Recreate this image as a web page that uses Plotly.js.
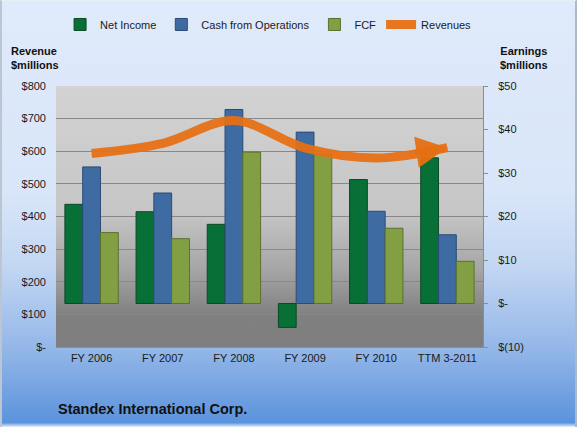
<!DOCTYPE html>
<html>
<head>
<meta charset="utf-8">
<script src="https://cdn.plot.ly/plotly-3.0.1.min.js"></script>
<style>
  html, body { margin: 0; padding: 0; }
  #chart {
    width: 577px; height: 427px; box-sizing: border-box;
    background: linear-gradient(to bottom, #dfeafb 0%, #d9e6f9 45%, #c3d7f3 62%, #93b6e8 82%, #5b93dc 99%, #e8f0fb 100%);
    border-left: 2px solid #bcc6d2; border-right: 2px solid #b0b8c4; border-top: 1px solid #e8eef6;
  }
</style>
</head>
<body>
<div id="chart"></div>
<script>
const categories = ["FY 2006", "FY 2007", "FY 2008", "FY 2009", "FY 2010", "TTM 3-2011"];
const netIncome = [22.8, 21.1, 18.2, -5.5, 28.5, 33.5];
const cashFromOps = [31.4, 25.4, 44.6, 39.4, 21.2, 15.8];
const fcf = [16.3, 14.9, 34.8, 34.4, 17.3, 9.7];
const revenues = [593, 624, 694, 610, 579, 611];

const revTickVals = [0, 100, 200, 300, 400, 500, 600, 700, 800];
const revTickText = ["$-", "$100", "$200", "$300", "$400", "$500", "$600", "$700", "$800"];
const earnTickVals = [-10, 0, 10, 20, 30, 40, 50];
const earnTickText = ["$(10)", "$-", "$10", "$20", "$30", "$40", "$50"];

const FONT = "Liberation Sans, Arial, sans-serif";
const ORANGE = "rgba(230,112,20,0.95)";

function barTrace(name, values, fill, edge) {
  return {
    type: "bar", name: name, x: categories, y: values, yaxis: "y",
    marker: { color: fill, line: { color: edge, width: 1 } },
    hoverinfo: "skip"
  };
}

const traces = [
  barTrace("Net Income", netIncome, "#086f36", "#0b4a26"),
  barTrace("Cash from Operations", cashFromOps, "#3f6ba3", "#2b4b76"),
  barTrace("FCF", fcf, "#82a043", "#5a7130"),
  {
    type: "scatter", mode: "lines", name: "Revenues",
    x: categories, y: revenues, yaxis: "y2",
    line: { color: ORANGE, width: 9, shape: "spline", smoothing: 1 },
    hoverinfo: "skip"
  }
];

const plotBg = "data:image/svg+xml;utf8," + encodeURIComponent(
  "<svg xmlns='http://www.w3.org/2000/svg' width='10' height='100' preserveAspectRatio='none'>" +
  "<defs><linearGradient id='g' x1='0' y1='0' x2='0' y2='1'>" +
  "<stop offset='0' stop-color='#d3d3d3'/><stop offset='0.48' stop-color='#c6c6c6'/>" +
  "<stop offset='0.7' stop-color='#a6a6a6'/><stop offset='0.88' stop-color='#808080'/>" +
  "<stop offset='1' stop-color='#7e7e7e'/></linearGradient></defs>" +
  "<rect width='10' height='100' fill='url(#g)'/></svg>");

const last = categories.length - 1;

const layout = {
  width: 577, height: 427,
  margin: { l: 54, r: 96, t: 85, b: 81 },
  paper_bgcolor: "rgba(0,0,0,0)",
  plot_bgcolor: "rgba(0,0,0,0)",
  font: { family: FONT, size: 11, color: "#1a1a1a" },
  barmode: "group", bargap: 0.25, bargroupgap: 0,
  showlegend: true,
  legend: {
    orientation: "h", xref: "container", yref: "container",
    x: 0.462, xanchor: "center", y: 0.945, yanchor: "middle",
    font: { family: FONT, size: 11, color: "#1a1a1a" },
    bgcolor: "rgba(0,0,0,0)", traceorder: "normal"
  },
  title: {
    text: "<b>Standex International Corp.</b>",
    xref: "container", yref: "container", x: 56 / 577, xanchor: "left",
    y: 1 - 408 / 427, yanchor: "middle",
    font: { family: FONT, size: 14.5, color: "#111" }
  },
  xaxis: {
    type: "category", showgrid: false, zeroline: false,
    showline: true, linecolor: "#8c8c8c", linewidth: 1,
    ticks: "", tickfont: { size: 11 }, ticklabelstandoff: 1
  },
  yaxis: {
    side: "right", range: [-10, 50], tickvals: earnTickVals, ticktext: earnTickText,
    showgrid: false, zeroline: false, showline: true, linecolor: "#8c8c8c", linewidth: 1,
    ticks: "outside", ticklen: 4, tickcolor: "#8c8c8c", ticklabelstandoff: 8,
    tickfont: { size: 11 }
  },
  yaxis2: {
    side: "left", overlaying: "y", range: [0, 800],
    tickvals: revTickVals, ticktext: revTickText,
    showgrid: true, gridcolor: "#888888", gridwidth: 1, zeroline: false,
    showline: false, ticks: "", ticklabelstandoff: 9, tickfont: { size: 11 }
  },
  images: [{
    source: plotBg, xref: "paper", yref: "paper", x: 0, y: 1, sizex: 1, sizey: 1,
    xanchor: "left", yanchor: "top", sizing: "stretch", layer: "below"
  }],
  annotations: [
    { text: "<b>Revenue<br>$millions</b>", xref: "paper", yref: "paper",
      x: -0.05, y: 1.108, xanchor: "center", yanchor: "middle", showarrow: false,
      align: "left", font: { family: FONT, size: 11, color: "#111" } },
    { text: "<b>Earnings<br>$millions</b>", xref: "paper", yref: "paper",
      x: 1.097, y: 1.108, xanchor: "center", yanchor: "middle", showarrow: false,
      align: "center", font: { family: FONT, size: 11, color: "#111" } },
    { text: "", x: categories[last], y: revenues[last], xref: "x", yref: "y2",
      showarrow: true, ax: -34, ay: 5, arrowhead: 2, arrowwidth: 5, arrowsize: 1.25,
      arrowcolor: ORANGE, standoff: 0 }
  ]
};

Plotly.newPlot("chart", traces, layout, { displayModeBar: false, staticPlot: true });
</script>
</body>
</html>
